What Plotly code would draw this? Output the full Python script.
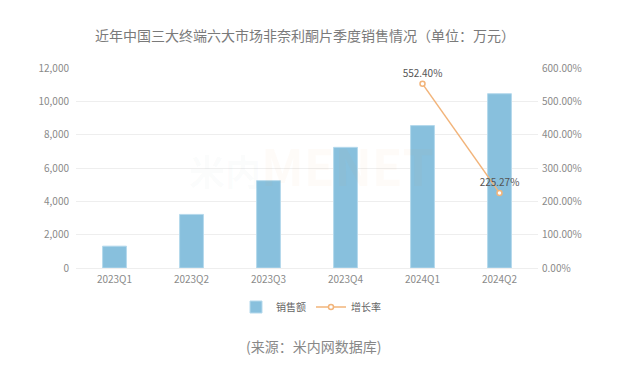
import plotly.graph_objects as go

categories = ["2023Q1", "2023Q2", "2023Q3", "2023Q4", "2024Q1", "2024Q2"]
sales = [1310, 3215, 5240, 7240, 8546, 10458]
growth = [None, None, None, None, 552.40, 225.27]
growth_labels = ["", "", "", "", "552.40%", "225.27%"]
left_ticks = [0, 2000, 4000, 6000, 8000, 10000, 12000]
right_ticks = [0, 100, 200, 300, 400, 500, 600]

FONT = "Noto Sans CJK SC, Noto Sans, sans-serif"

# page body has an 8px default margin; plot area wanted at page x 76..538, y 68..268
OFF = 8
PL, PT, PW, PH = 76, 68, 462, 200


def px(x):
    return (x - PL) / PW


def py(y):
    return (PT + PH - y) / PH


fig = go.Figure()
fig.add_trace(go.Bar(
    x=categories, y=sales, name="销售额",
    marker=dict(color="#88c0dd", line=dict(color="#b5d9ec", width=1)),
    width=0.31,
))
fig.add_trace(go.Scatter(
    x=categories, y=growth, name="增长率", yaxis="y2",
    mode="lines+markers+text",
    line=dict(color="#f2b47a", width=1.5),
    marker=dict(symbol="circle", size=5, color="white",
                line=dict(width=1.5, color="#f2b47a")),
    text=growth_labels, textposition="top center",
    textfont=dict(size=10, color="#555555", family=FONT),
    connectgaps=False,
))

fig.update_layout(
    width=641, height=371,
    margin=dict(l=PL - OFF, r=641 - (PL + PW) + OFF, t=PT - OFF,
                b=371 - (PT + PH) + OFF, autoexpand=False),
    paper_bgcolor="white", plot_bgcolor="white",
    font=dict(family=FONT, size=10, color="#8a8a8a"),
    showlegend=True,
    legend=dict(orientation="h", x=px(311), xanchor="center", y=py(307), yanchor="middle",
                font=dict(size=10, color="#666666"), itemwidth=30, entrywidth=30,
                bgcolor="rgba(0,0,0,0)"),
    xaxis=dict(showgrid=False, showline=True, linecolor="#eeeeee", ticks="",
               tickfont=dict(size=10, color="#8a8a8a"), ticklabelstandoff=2),
    yaxis=dict(range=[0, 12000], tickvals=left_ticks, tickformat=",",
               gridcolor="#eeeeee", zeroline=False, ticks="",
               tickfont=dict(size=10, color="#8a8a8a"), ticklabelstandoff=6),
    yaxis2=dict(range=[0, 600], tickvals=right_ticks,
                ticktext=[f"{v:.2f}%" for v in right_ticks],
                overlaying="y", side="right", showgrid=False, zeroline=False, ticks="",
                tickfont=dict(size=10, color="#8a8a8a"), ticklabelstandoff=3),
    annotations=[
        dict(text="近年中国三大终端六大市场非奈利酮片季度销售情况（单位：万元）",
             xref="paper", yref="paper", x=px(305), y=py(35),
             xanchor="center", yanchor="middle", showarrow=False,
             font=dict(size=14, color="#7a7a7a", family=FONT)),
        dict(text="(来源：米内网数据库)",
             xref="paper", yref="paper", x=px(313), y=py(346),
             xanchor="center", yanchor="middle", showarrow=False,
             font=dict(size=14, color="#888888", family=FONT)),
        dict(text="<b><span style='font-size:36px;color:rgba(140,165,185,0.2)'>米内</span></b>"
                  "<b><span style='color:rgba(240,150,80,0.2)'>MENET</span></b>",
             xref="paper", yref="paper", x=px(311), y=py(164),
             xanchor="center", yanchor="middle", showarrow=False,
             font=dict(size=50, color="rgba(240,150,80,0.2)", family=FONT)),
    ],
)

fig.write_html("out.html")
